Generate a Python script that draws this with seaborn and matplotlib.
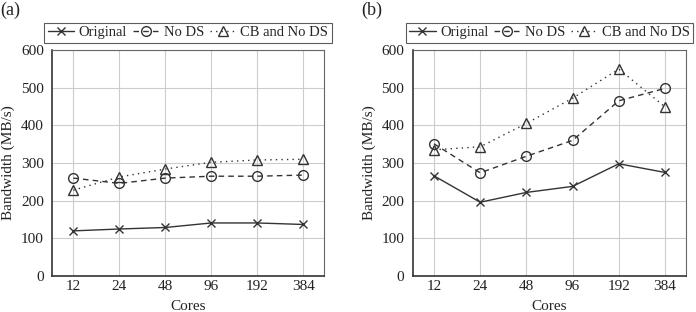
import numpy as np
import pandas as pd
import matplotlib
matplotlib.use("Agg")
import matplotlib.pyplot as plt
import seaborn as sns

cores = ["12", "24", "48", "96", "192", "384"]
series = ["Original", "No DS", "CB and No DS"]

a_original = [120, 125, 129, 141, 141, 137]
a_no_ds = [260, 246, 260, 265, 265, 268]
a_cb_no_ds = [228, 263, 284, 302, 308, 310]

b_original = [266, 196, 222, 238, 298, 275]
b_no_ds = [351, 274, 318, 360, 465, 498]
b_cb_no_ds = [335, 343, 405, 472, 549, 449]

sns.set_style("whitegrid")
plt.rcParams['font.family'] = ['Liberation Serif', 'DejaVu Serif']

line_col = '#333333'
styles = {
    "Original": dict(marker='x', linestyle='-', markersize=5.5, mew=1.0),
    "No DS": dict(marker='o', linestyle=(0, (4, 3)), markersize=7, mfc='none', mew=1.0),
    "CB and No DS": dict(marker='^', linestyle=(0, (1, 3)), markersize=6.5, mfc='none', mew=1.0),
}

fig = plt.figure(figsize=(6.96, 3.12), dpi=100)
ax_a = fig.add_axes([0.075, 0.115, 0.391, 0.725])
ax_b = fig.add_axes([0.593, 0.115, 0.393, 0.725])

panels = [
    (ax_a, "(a)", [a_original, a_no_ds, a_cb_no_ds]),
    (ax_b, "(b)", [b_original, b_no_ds, b_cb_no_ds]),
]

for ax, tag, vals in panels:
    x = np.arange(len(cores))
    for name, v in zip(series, vals):
        df = pd.DataFrame({"x": x, "y": v})
        sns.lineplot(data=df, x="x", y="y", ax=ax, color=line_col, lw=1.0,
                     mec=line_col, label=name, **styles[name])
    ax.set_xlim(-0.46, len(cores) - 1 + 0.46)
    ax.set_ylim(0, 600)
    ax.set_xticks(x)
    ax.set_xticklabels(cores)
    ax.set_yticks(range(0, 601, 100))
    ax.tick_params(labelsize=11, colors='#222222', length=0)
    ax.tick_params(axis='x', pad=3)
    ax.tick_params(axis='y', pad=6)
    ax.set_xlabel("Cores", fontsize=11, color='#222222', labelpad=5)
    ax.set_ylabel("Bandwidth (MB/s)", fontsize=11, color='#222222', labelpad=4)
    ax.grid(True, color='#cccccc', lw=0.8)
    for side in ['top', 'right']:
        ax.spines[side].set_color('#666666')
        ax.spines[side].set_linewidth(0.8)
    for side in ['left', 'bottom']:
        ax.spines[side].set_color('#333333')
        ax.spines[side].set_linewidth(1.2)
    leg = ax.legend(loc='lower center', bbox_to_anchor=(0.5, 1.03), ncol=3,
                    frameon=True, fancybox=False, fontsize=10.5, handlelength=1.8,
                    handletextpad=0.3, columnspacing=0.4, borderpad=0.25,
                    borderaxespad=0.0)
    leg.get_frame().set_edgecolor('#333333')
    leg.get_frame().set_linewidth(0.8)
    bb = ax.get_position()
    fig.text(bb.x0 - 0.075 + 0.001, 0.995, tag, fontsize=13, va='top', ha='left', color='#222222')

fig.savefig("out.png", dpi=100)
